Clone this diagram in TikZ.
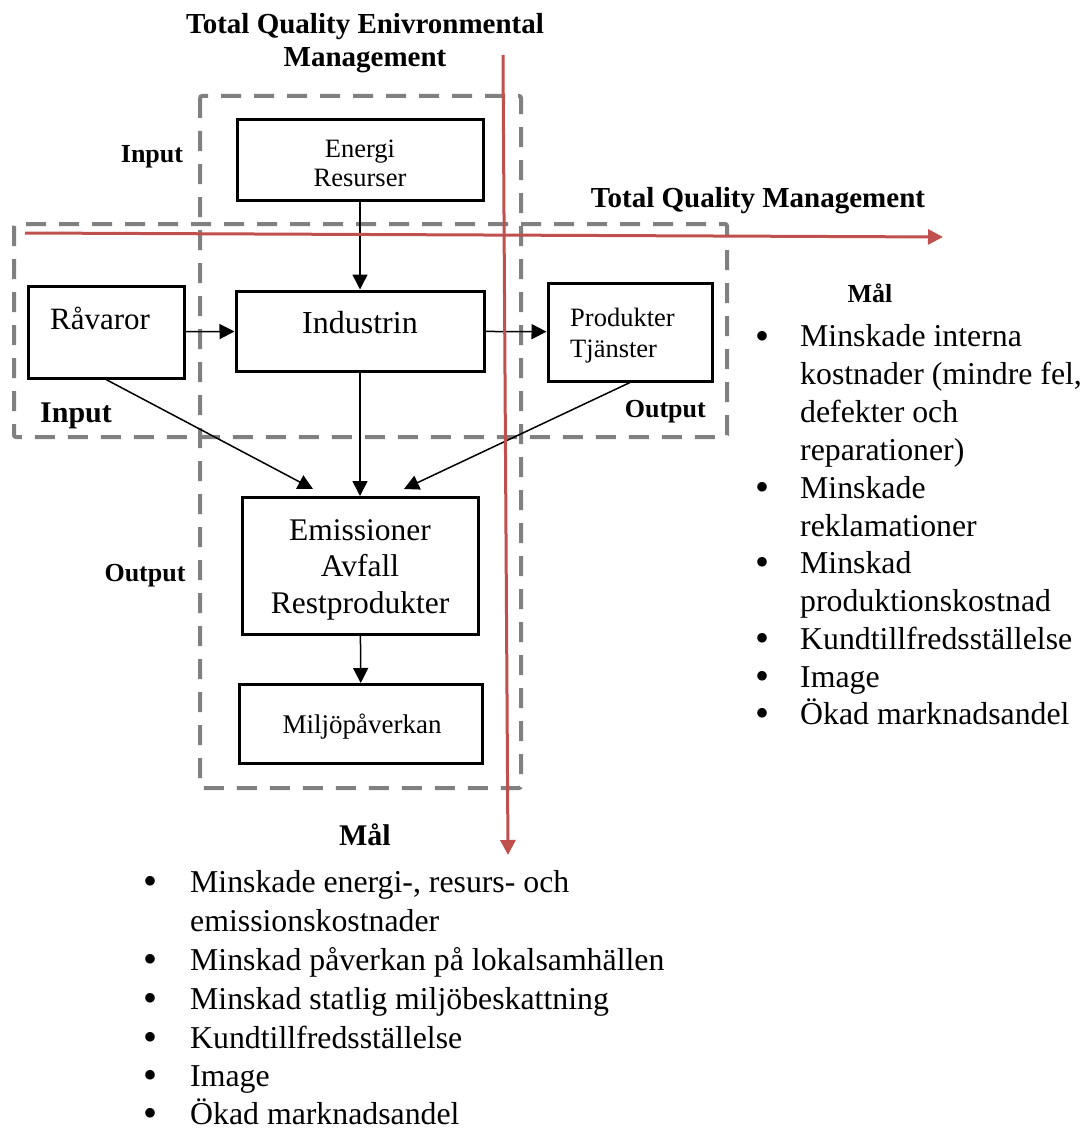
\documentclass[tikz,border=0pt]{standalone}
\usepackage{fontspec}
\setmainfont{Liberation Serif}
\usepackage{tikz}
\usetikzlibrary{arrows.meta}

\definecolor{tqred}{RGB}{192,80,77}
\definecolor{tqgray}{RGB}{128,128,128}

\begin{document}
\begin{tikzpicture}[
      x=1pt, y=-1pt,
      box/.style={draw, line width=3pt, inner sep=0pt},
      boxtxt/.style={anchor=base, align=center, inner sep=0pt},
      lbl/.style={anchor=base, align=center, inner sep=0pt, font=\fontsize{26}{33}\selectfont\bfseries},
      zone/.style={draw=tqgray, line width=4pt, dash pattern=on 20pt off 13pt, rounded corners=2pt},
      arr/.style={-{Triangle[length=15pt, width=15pt]}, line width=1.5pt},
      tqline/.style={draw=tqred, line width=3pt, -{Triangle[length=15pt, width=15pt]}},
      goal/.style={anchor=base west, align=left, inner sep=0pt},
      dot/.style={anchor=base, inner sep=0pt, text depth=0pt, yshift=-2pt, font=\fontsize{40}{40}\selectfont},
    ]
    \useasboundingbox (0,0) rectangle (1085,1129);
    % ── TQEM- och TQM-zoner ──
    \draw[zone] (200,96) rectangle (521,788);
    \draw[zone] (14,224) rectangle (727,437);
    % ── Boxar (multi-line text: y = last baseline) ──
    \node[box, minimum width=246, minimum height=80]  (energi)   at (360,160) {};
    \node[box, minimum width=156, minimum height=92]  (ravaror)  at (106,332) {};
    \node[box, minimum width=248, minimum height=80]  (industri) at (360,331) {};
    \node[box, minimum width=164, minimum height=98]  (produkt)  at (630,332) {};
    \node[box, minimum width=236, minimum height=137] (emission) at (360,566) {};
    \node[box, minimum width=243, minimum height=79]  (miljo)    at (361,724) {};
    \node[boxtxt, font=\fontsize{26.5}{29}\selectfont] (energiT) at (360,186) {Energi\\Resurser};
    \node[boxtxt, font=\fontsize{31}{37}\selectfont] (ravarorT) at (100,329) {Råvaror};
    \node[boxtxt, font=\fontsize{32}{37}\selectfont] (industriT) at (360,333) {Industrin};
    \node[boxtxt, anchor=base west, align=left, font=\fontsize{26.5}{31}\selectfont] (produktT) at (570,357) {Produkter\\Tjänster};
    \node[boxtxt, font=\fontsize{31.5}{36.5}\selectfont] (emissionT) at (360,613) {Emissioner\\Avfall\\Restprodukter};
    \node[boxtxt, font=\fontsize{27}{31}\selectfont] (miljoT) at (362,733) {Miljöpåverkan};
    % ── Rubriker ──
    \node[lbl, font=\fontsize{29}{33}\selectfont\bfseries] (tqem) at (365,67) {Total Quality Enivronmental\\Management};
    \node[lbl, font=\fontsize{29}{33}\selectfont\bfseries] (tqm) at (758,207) {Total Quality Management};
    \node[lbl] (inTop) at (152,162) {Input};
    \node[lbl, anchor=base west, font=\fontsize{30}{33}\selectfont\bfseries] (inLeft) at (40,422) {Input};
    \node[lbl, anchor=base east] (outRight) at (706,417) {Output};
    \node[lbl] (outLeft) at (145,581) {Output};
    \node[lbl] (malRight) at (870,302) {Mål};
    \node[lbl, font=\fontsize{30}{33}\selectfont\bfseries] (malBottom) at (365,845) {Mål};
    % ── Flöden ──
    \coordinate (emisL) at (313,489);
    \coordinate (emisR) at (404,489);
    \draw[arr] (energi) -- (industri);
    \draw[arr] (ravaror) -- (industri);
    \draw[arr] (industri) -- (produkt);
    \draw[arr] (ravaror.south) -- (emisL);
    \draw[arr] (industri) -- (emission);
    \draw[arr] (produkt.south) -- (emisR);
    \draw[arr] (emission) -- (miljo);
    % ── Axlar ──
    \coordinate (vTop) at (503,55);
    \coordinate (vEnd) at (508,855);
    \coordinate (hStart) at (25,233);
    \coordinate (hEnd) at (943,237);
    \draw[tqline] (vTop) -- (vEnd);
    \draw[tqline] (hStart) -- (hEnd);
    % ── Mål (TQM): \y = first baseline, \z = last baseline ──
    \foreach \y/\z/\txt [count=\i] in {
        347/460/{Minskade interna\\kostnader (mindre fel,\\defekter och\\reparationer)},
        498/536/{Minskade\\reklamationer},
        573/611/{Minskad\\produktionskostnad},
        649/649/{Kundtillfredsställelse},
        687/687/{Image},
        724/724/{Ökad marknadsandel}} {
      \node[dot] (dotR\i) at (762,\y) {\textbullet};
      \node[goal, font=\fontsize{31.8}{37.7}\selectfont] (goalR\i) at (800,\z) {\txt};
    }
    % ── Mål (TQEM) ──
    \foreach \y/\z/\txt [count=\i] in {
        892/931/{Minskade energi-, resurs- och\\emissionskostnader},
        970/970/{Minskad påverkan på lokalsamhällen},
        1009/1009/{Minskad statlig miljöbeskattning},
        1048/1048/{Kundtillfredsställelse},
        1086/1086/{Image},
        1124/1124/{Ökad marknadsandel}} {
      \node[dot] (dotB\i) at (150,\y) {\textbullet};
      \node[goal, font=\fontsize{31.8}{38.9}\selectfont] (goalB\i) at (190,\z) {\txt};
    }
\end{tikzpicture}
\end{document}
